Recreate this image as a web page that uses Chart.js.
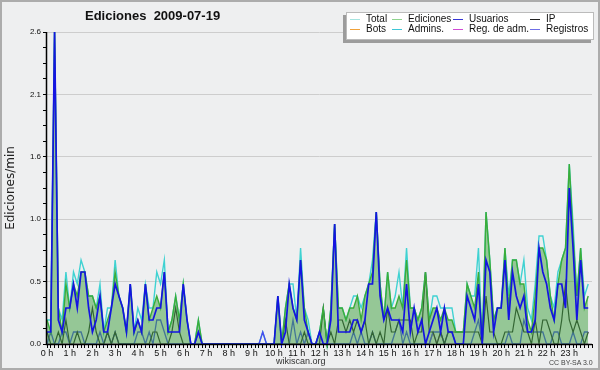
<!DOCTYPE html>
<html>
<head>
<meta charset="utf-8">
<script src="https://cdn.jsdelivr.net/npm/chart.js@4.4.1/dist/chart.umd.min.js"></script>
<style>
  body { margin: 0; }
  #wrap { position: relative; width: 600px; height: 370px; background: #eeeff0; font-family: "Liberation Sans", Arial, sans-serif; overflow: hidden; }
  #chart { position: absolute; left: 0; top: 0; }
  #frame { position: absolute; left: 0; top: 0; width: 600px; height: 370px; box-shadow: inset 0 0 0 2px #acacac; pointer-events: none; }
  #title { position: absolute; left: 85px; top: 8px; font-weight: bold; font-size: 13px; line-height: 15px; white-space: pre; color: #111; }
  #legend { position: absolute; left: 346px; top: 12px; width: 248px; height: 28px; background: #fff; border: 1px solid #bbb; box-shadow: -3px 3px 0 #9c9c9c; box-sizing: border-box; }
  .item { position: absolute; font-size: 10px; line-height: 10px; color: #111; white-space: nowrap; }
  .item i { position: absolute; left: -16px; top: 5px; width: 10px; height: 1px; }
  #site { position: absolute; left: 276px; top: 356px; font-size: 9px; line-height: 10px; color: #333; }
  #cc { position: absolute; left: 549px; top: 359px; font-size: 7px; line-height: 8px; color: #444; }
</style>
</head>
<body>
<div id="wrap">
  <canvas id="chart" width="600" height="370"></canvas>
  <div id="title">Ediciones  2009-07-19</div>
  <div id="legend"></div>
  <div id="site">wikiscan.org</div>
  <div id="cc">CC BY-SA 3.0</div>
  <div id="frame"></div>
</div>
<script>
// ediciones por minuto, medias de 10 minutos (144 franjas, 0 h -> 23 h 50)
const hourLabels = ['0 h', '1 h', '2 h', '3 h', '4 h', '5 h', '6 h', '7 h', '8 h', '9 h', '10 h', '11 h',
                    '12 h', '13 h', '14 h', '15 h', '16 h', '17 h', '18 h', '19 h', '20 h', '21 h', '22 h', '23 h'];
const yTickLabels = ['0.0', '0.5', '1.0', '1.6', '2.1', '2.6'];

const total = [
  .2, .2, 2.6, .3, .2, .6, .3, .6, .5, .7, .6, .4,
  .4, .3, .5, .1, .3, .3, .7, .4, .3, .1, .5, .1,
  .3, .2, .5, .3, .3, .6, .5, .7, .1, .2, .4, .2,
  .5, .2, 0, 0, .2, 0, 0, 0, 0, 0, 0, 0,
  0, 0, 0, 0, 0, 0, 0, 0, 0, .1, 0, 0,
  0, .4, 0, .3, .5, .5, .2, .8, .3, .2, 0, 0,
  .1, .3, 0, .3, 1.0, .3, .3, .2, .3, .4, .4, .3,
  .4, .5, .7, 1.1, .5, .2, .6, .3, .4, .6, .3, .8,
  .3, .3, .2, .3, .6, .2, .4, .4, .3, .3, .3, .3,
  .1, .1, .1, .5, .4, .4, .8, 0, 1.1, .7, .2, .3,
  .3, .8, .4, .7, .7, .5, .7, .3, .2, .5, .9, .9,
  .7, .4, .3, .6, .7, .8, 1.5, 1.0, .4, .8, .4, .5
];
const ediciones = [
  .2, .1, 2.6, .3, .1, .5, .3, .5, .4, .6, .6, .4,
  .4, .3, .4, .1, .2, .3, .6, .4, .3, .1, .5, .1,
  .2, .1, .5, .2, .3, .4, .3, .6, .1, .2, .4, .2,
  .5, .2, 0, 0, .2, 0, 0, 0, 0, 0, 0, 0,
  0, 0, 0, 0, 0, 0, 0, 0, 0, 0, 0, 0,
  0, .4, 0, .3, .5, .3, .2, .7, .3, .1, 0, 0,
  .1, .3, 0, .3, 1.0, .3, .3, .2, .3, .3, .4, .2,
  .4, .5, .6, 1.1, .5, .2, .6, .3, .3, .4, .3, .7,
  .3, .3, .2, .3, .6, .2, .3, .3, .2, .3, .2, .2,
  .1, .1, .1, .5, .4, .3, .6, 0, 1.1, .7, .2, .3,
  .3, .8, .3, .7, .7, .5, .5, .2, .1, .4, .8, .8,
  .7, .4, .2, .5, .7, .8, 1.5, .9, .4, .8, .3, .4
];
const usuarios = [
  .1, .1, 2.6, .2, .1, .3, .3, .5, .3, .6, .6, .3,
  .1, .2, .4, .1, .1, .3, .5, .4, .3, .1, .5, .1,
  .2, .1, .5, .2, .2, .3, .3, .6, .1, .1, .1, .1,
  .5, .2, 0, 0, .1, 0, 0, 0, 0, 0, 0, 0,
  0, 0, 0, 0, 0, 0, 0, 0, 0, 0, 0, 0,
  0, .4, 0, .1, .5, .3, .2, .7, .2, .1, 0, 0,
  .1, 0, 0, .2, 1.0, .1, .1, .1, .1, .2, .2, .1,
  .2, .5, .5, 1.1, .4, .2, .3, .2, .2, .2, .1, .5,
  .1, .3, .1, .2, 0, .1, .2, .3, .1, .3, .1, .1,
  0, 0, 0, .4, .3, .2, .5, 0, .7, .6, .1, .3,
  .3, .7, .2, .6, .4, .3, .4, .1, .1, .2, .8, .6,
  .5, .3, .2, .5, .5, .3, 1.3, .8, .2, .7, .3, .3
];
const ip = [
  .1, 0, 0, .1, 0, .2, 0, 0, .1, 0, 0, .1,
  .3, .1, 0, 0, .1, 0, .1, 0, 0, 0, 0, 0,
  0, 0, 0, 0, .1, .1, 0, 0, 0, .1, .3, .1,
  0, 0, 0, 0, .1, 0, 0, 0, 0, 0, 0, 0,
  0, 0, 0, 0, 0, 0, 0, 0, 0, 0, 0, 0,
  0, 0, 0, .2, 0, 0, 0, 0, .1, 0, 0, 0,
  0, .3, 0, .1, 0, .2, .2, .1, .2, .1, .2, .1,
  .2, 0, .1, 0, .1, 0, .3, .1, .1, .2, .2, .2,
  .2, 0, .1, .1, .6, .1, .1, 0, .1, 0, .1, .1,
  .1, .1, .1, .1, .1, .1, .1, 0, .4, .1, .1, 0,
  0, .1, .1, .1, .3, .2, .1, .1, 0, .2, 0, .2,
  .2, .1, 0, 0, .2, .5, .2, .1, .2, .1, 0, .1
];
const registros = [
  0, .1, 0, 0, .1, .1, 0, .1, .1, .1, 0, 0,
  0, 0, .1, 0, .1, 0, .1, 0, 0, 0, 0, 0,
  .1, .1, 0, .1, 0, .2, .2, .1, 0, 0, 0, 0,
  0, 0, 0, 0, 0, 0, 0, 0, 0, 0, 0, 0,
  0, 0, 0, 0, 0, 0, 0, 0, 0, .1, 0, 0,
  0, 0, 0, 0, 0, .2, 0, .1, 0, .1, 0, 0,
  0, 0, 0, 0, 0, 0, 0, 0, 0, .1, 0, .1,
  0, 0, .1, 0, 0, 0, 0, 0, .1, .2, 0, .1,
  0, 0, 0, 0, 0, 0, .1, .1, .1, 0, .1, .1,
  0, 0, 0, 0, 0, .1, .2, 0, 0, 0, 0, 0,
  0, 0, .1, 0, 0, 0, .2, .1, .1, .1, .1, .1,
  0, 0, .1, .1, 0, 0, 0, .1, 0, 0, .1, .1
];
const regAdm = [
  0, 0, 0, 0, 0, 0, 0, 0, 0, 0, 0, 0,
  0, 0, 0, 0, 0, 0, 0, 0, 0, 0, 0, 0,
  0, 0, 0, 0, 0, 0, 0, 0, 0, 0, 0, 0,
  0, 0, 0, 0, 0, 0, 0, 0, 0, 0, 0, 0,
  0, 0, 0, 0, 0, 0, 0, 0, 0, 0, 0, 0,
  0, 0, 0, 0, 0, 0, 0, 0, 0, 0, 0, 0,
  0, 0, 0, 0, 0, 0, 0, 0, 0, 0, 0, 0,
  0, 0, 0, 0, 0, 0, 0, 0, 0, 0, 0, 0,
  0, 0, 0, 0, 0, 0, .1, 0, .1, 0, 0, 0,
  0, 0, 0, 0, 0, 0, 0, 0, 0, 0, 0, 0,
  0, 0, 0, 0, 0, 0, 0, 0, 0, 0, 0, 0,
  0, 0, 0, 0, 0, 0, 0, 0, 0, 0, 0, 0
];

// leyenda (texto, color de la muestra)
const legendItems = [
  ['Total', '#a6e4e0'], ['Ediciones', '#8fd48f'], ['Usuarios', '#3535d5'], ['IP', '#222'],
  ['Bots', '#f0a23a'], ['Admins.', '#3ec6d6'], ['Reg. de adm.', '#d04ad4'], ['Registros', '#6f6fe6']
];
const legendCols = [19, 61, 122, 199];
const legendRows = [1, 11];

const legendBox = document.getElementById('legend');
legendItems.forEach(([txt, col], k) => {
  const d = document.createElement('div');
  d.className = 'item';
  d.style.left = legendCols[k % 4] + 'px';
  d.style.top = legendRows[Math.floor(k / 4)] + 'px';
  d.innerHTML = '<i style="background:' + col + '"></i>' + txt;
  legendBox.appendChild(d);
});

const slots = total.map((_, i) => i);

// ejes negros por encima de las series (las lineas en 0 no tapan el eje)
const axisOnTop = {
  id: 'axisOnTop',
  afterDatasetsDraw(chart) {
    const { ctx, chartArea: a } = chart;
    ctx.save();
    ctx.strokeStyle = '#000';
    ctx.lineWidth = 1.5;
    ctx.beginPath();
    ctx.moveTo(a.left - 0.5, a.top);
    ctx.lineTo(a.left - 0.5, a.bottom + 0.5);
    ctx.lineTo(a.right, a.bottom + 0.5);
    ctx.stroke();
    ctx.restore();
  }
};

function line(label, data, color, width, order, extra) {
  return Object.assign({ label, data, borderColor: color, borderWidth: width, order, fill: false, clip: false }, extra || {});
}

new Chart(document.getElementById('chart'), {
  type: 'line',
  data: {
    labels: slots,
    datasets: [
      line('Usuarios', usuarios, '#1414e2', 1.7, 0),
      line('Ediciones', ediciones, '#3aad3a', 1.4, 1, { fill: 'origin', backgroundColor: 'rgba(60,160,60,0.5)' }),
      line('IP', ip, '#2a2a2a', 1.2, 2),
      line('Registros', registros, '#4a4af0', 1.3, 3),
      line('Reg. de adm.', regAdm, '#d040d0', 1.2, 4),
      line('Total', total, '#3fd2d2', 1.4, 5)
    ]
  },
  options: {
    responsive: false,
    animation: false,
    devicePixelRatio: 1,
    layout: { padding: { top: 32, left: 0, right: 8, bottom: 0 } },
    elements: { point: { radius: 0 }, line: { tension: 0 } },
    plugins: { legend: { display: false }, tooltip: { enabled: false } },
    scales: {
      x: {
        type: 'linear',
        min: 0,
        max: 144,
        border: { display: false },
        grid: { drawOnChartArea: false, drawTicks: true, tickLength: 4, color: '#000', tickColor: '#000' },
        ticks: {
          stepSize: 1,
          autoSkip: false,
          maxRotation: 0,
          minRotation: 0,
          padding: 0,
          color: '#111',
          font: { family: '"Liberation Sans", Arial, sans-serif', size: 9 },
          callback: (v) => (v % 6 === 0 && v < 144) ? hourLabels[v / 6] : ''
        },
        afterFit: (s) => { s.height = 26; }
      },
      y: {
        min: 0,
        max: 2.6,
        border: { display: false },
        grid: {
          color: (c) => c.index % 4 === 0 ? '#cdcdcd' : 'rgba(0,0,0,0)',
          tickColor: '#000',
          tickLength: 4,
          drawTicks: true
        },
        ticks: {
          stepSize: 0.13,
          autoSkip: false,
          padding: 2,
          color: '#111',
          font: { family: '"Liberation Sans", Arial, sans-serif', size: 8 },
          callback: (v, i) => i % 4 === 0 ? yTickLabels[i / 4] : ''
        },
        title: {
          display: true,
          text: 'Ediciones/min',
          color: '#222',
          padding: { top: 4, bottom: 0 },
          font: { family: '"DejaVu Sans", sans-serif', size: 12 }
        },
        afterFit: (s) => { s.width = 47; }
      }
    }
  },
  plugins: [axisOnTop]
});
</script>
</body>
</html>
